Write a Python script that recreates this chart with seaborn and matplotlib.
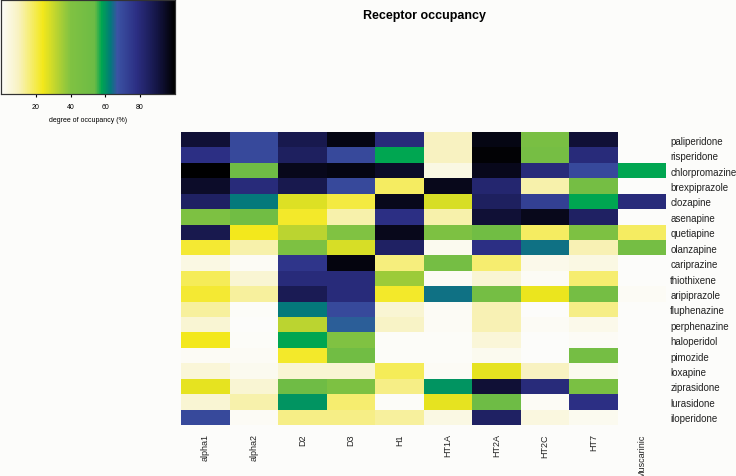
import numpy as np
import pandas as pd
import matplotlib
matplotlib.use("Agg")
import matplotlib.pyplot as plt
import seaborn as sns
from matplotlib.colors import LinearSegmentedColormap

# -----------------------------------------------------
# Data: occupancy (%) per receptor, one value per drug
# -----------------------------------------------------
drugs = ["paliperidone", "risperidone", "chlorpromazine", "brexpiprazole", "clozapine",
         "asenapine", "quetiapine", "olanzapine", "cariprazine", "thiothixene",
         "aripiprazole", "fluphenazine", "perphenazine", "haloperidol", "pimozide",
         "loxapine", "ziprasidone", "lurasidone", "iloperidone"]
receptors = ["alpha1", "alpha2", "D2", "D3", "H1", "HT1A", "HT2A", "HT2C", "HT7", "Muscarinic"]

alpha1 = [92, 78, 100, 94, 84, 42, 88, 22, 4, 19, 22, 13, 7, 24, 1, 6, 26, 7, 70]
alpha2 = [70, 70, 52, 80, 63, 50, 24, 12, 1, 7, 13, 0.5, 0, 0.5, 1, 2, 7, 12, 1]
d2 = [88, 85, 96, 88, 27, 23, 32, 42, 76, 80, 87, 63, 32, 58, 23, 7, 52, 60, 15]
d3 = [97, 70, 97, 70, 21, 12, 40, 28, 98, 80, 80, 70, 66, 40, 50, 7, 42, 17, 15]
h1 = [80, 58, 94, 18, 96, 78, 96, 84, 16, 36, 23, 7, 9, 0.5, 0.5, 19, 15, 0.5, 13]
ht1a = [10, 10, 4, 96, 28, 12, 42, 2, 48, 1, 64, 1, 1, 0.5, 0.5, 1, 60, 26, 4]
ht2a = [97, 99, 96, 82, 85, 92, 50, 78, 17, 7, 48, 11, 11, 6, 2, 26, 92, 53, 84]
ht2c = [45, 47, 80, 12, 73, 96, 18, 64, 3, 1, 25, 0, 1, 0, 0, 10, 80, 1, 5]
ht7 = [92, 80, 70, 48, 58, 84, 42, 11, 4, 17, 48, 15, 3, 1, 48, 2, 44, 78, 2]
muscarinic = [0, 0, 58, 0, 80, 0, 18, 48, 0, 0, 1, 0, 0, 0, 0, 0, 0, 0, 0]

df = pd.DataFrame({"alpha1": alpha1, "alpha2": alpha2, "D2": d2, "D3": d3, "H1": h1,
                   "HT1A": ht1a, "HT2A": ht2a, "HT2C": ht2c, "HT7": ht7,
                   "Muscarinic": muscarinic}, index=drugs)[receptors]

# -----------------------------------------------------
# Colour scale: white -> yellow -> green -> blue -> black
# -----------------------------------------------------
occ_cmap = LinearSegmentedColormap.from_list("occupancy", [
    (0.00, "#fcfcfa"),
    (0.10, "#f8f2c0"),
    (0.24, "#f3e81b"),
    (0.30, "#c8d82c"),
    (0.40, "#80c242"),
    (0.54, "#6cbb45"),
    (0.58, "#00a651"),
    (0.63, "#027a7a"),
    (0.67, "#3b53a4"),
    (0.78, "#2c2f84"),
    (0.90, "#141545"),
    (1.00, "#000000"),
])

plt.rcParams["font.family"] = ["Liberation Sans", "DejaVu Sans"]

bg = "#fcfcfa"
fig = plt.figure(figsize=(7.36, 4.77), dpi=100, facecolor=bg)
ax = fig.add_axes([0.246, 0.107, 0.659, 0.614])
cax = fig.add_axes([0.0014, 0.801, 0.236, 0.197])

sns.heatmap(df, ax=ax, cmap=occ_cmap, vmin=0, vmax=100, cbar=True, cbar_ax=cax,
            cbar_kws={"orientation": "horizontal", "ticks": [20, 40, 60, 80]})

ax.set_facecolor(bg)
ax.yaxis.tick_right()
ax.set_yticks(np.arange(len(drugs)) + 0.5)
ax.set_yticklabels(drugs, rotation=0, fontsize=7, color="#222222")
ax.set_xticks(np.arange(len(receptors)) + 0.5)
ax.set_xticklabels(receptors, rotation=90, fontsize=6.5, color="#222222", va="top")
ax.tick_params(axis="y", length=0, pad=3)
ax.tick_params(axis="x", length=0, pad=6)
ax.set_xlabel("")
ax.set_ylabel("")

cax.tick_params(labelsize=5, length=2.5, width=0.8, pad=4)
cax.set_xlabel("degree of occupancy (%)", fontsize=5, labelpad=4)
for sp in cax.spines.values():
    sp.set_visible(True)
    sp.set_linewidth(0.8)
    sp.set_color("#333333")

fig.text(0.577, 0.966, "Receptor occupancy", ha="center", va="center",
         fontsize=9, fontweight="bold")

plt.savefig("out.png", dpi=100, facecolor=bg)
